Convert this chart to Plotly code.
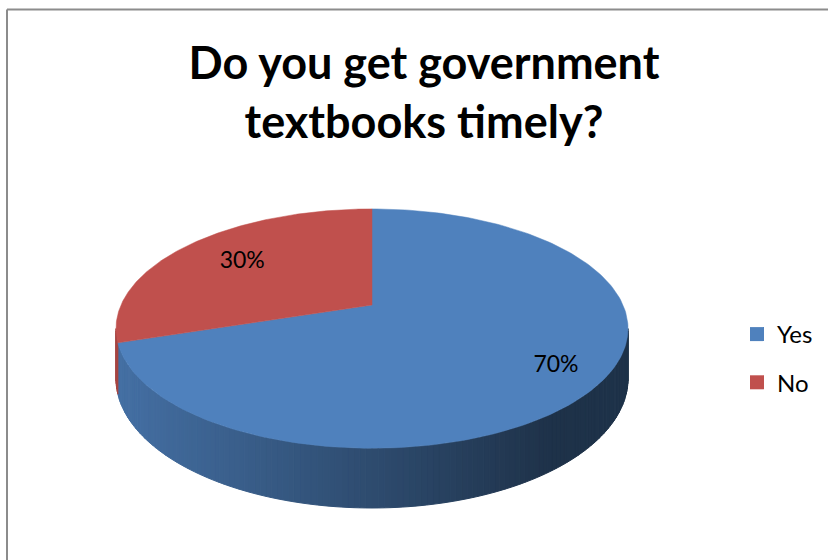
import numpy as np
import plotly.graph_objects as go

# ---- data ----
labels = ["Yes", "No"]
values = [70, 30]
label_text = ["70%", "30%"]
colors = ["#4F81BD", "#C0504D"]
title_text = "Do you get government<br>textbooks timely?"

# ---- projection of a tilted 3D disc (pixel-like axes) ----
W, H = 828, 560
CX, CY = 372.0, 305.0      # projected pie centre
A, B = 251.0, 115.0        # horizontal / vertical radius
K = 0.197                  # perspective strength
D = 48.0                   # thickness
LABEL_R = [0.82, 0.69]


def proj(t_deg, r=1.0, depth=0.0):
    t = np.radians(t_deg)
    u = r * np.sin(t)
    v = -r * np.cos(t)
    w = 1 - K * v
    return CX + A * u / w, CY + (B * v + D * depth) / w


def hex2rgb(h):
    h = h.lstrip("#")
    return tuple(int(h[i:i + 2], 16) for i in (0, 2, 4))


total = float(sum(values))
bounds = []
cum = 0.0
for v in values:
    bounds.append((360 * cum / total, 360 * (cum + v) / total))
    cum += v


def slice_of(t):
    for i, (a0, a1) in enumerate(bounds):
        if a0 <= t % 360 < a1:
            return i
    return len(bounds) - 1


fig = go.Figure()

# side wall (visible front part) with horizontal shading
t_sil = np.degrees(np.arccos(-K))
t_start, t_end = t_sil, 360 - t_sil
N = 140
ts = np.linspace(t_start, t_end, N + 1)
xmin = CX - A / np.sqrt(1 - K * K)
xmax = CX + A / np.sqrt(1 - K * K)
for i in range(N):
    t0, t1 = ts[i], ts[i + 1]
    tm = 0.5 * (t0 + t1)
    si = slice_of(tm)
    xm, _ = proj(tm)
    f = (xm - xmin) / (xmax - xmin)
    fac = 0.87 - 0.48 * min(max(f / 0.85, 0), 1)
    r, g, b = hex2rgb(colors[si])
    col = f"rgb({int(r*fac)},{int(g*fac)},{int(b*fac)})"
    xa0, ya0 = proj(t0)
    xa1, ya1 = proj(t1)
    xb1, yb1 = proj(t1, depth=1)
    xb0, yb0 = proj(t0, depth=1)
    fig.add_trace(go.Scatter(
        x=[xa0, xa1, xb1, xb0, xa0], y=[ya0, ya1, yb1, yb0, ya0],
        mode="lines", fill="toself", fillcolor=col,
        line=dict(color=col, width=1), hoverinfo="skip", showlegend=False))

# top faces
for i, (a0, a1) in enumerate(bounds):
    tt = np.linspace(a0, a1, 200)
    xs, ys = proj(tt)
    xs = np.concatenate([[CX], xs, [CX]])
    ys = np.concatenate([[CY], ys, [CY]])
    fig.add_trace(go.Scatter(
        x=xs, y=ys, mode="lines", fill="toself", fillcolor=colors[i],
        line=dict(color=colors[i], width=0.5), hoverinfo="skip",
        showlegend=False))

# data labels
for i, (a0, a1) in enumerate(bounds):
    lx, ly = proj(0.5 * (a0 + a1), r=LABEL_R[i])
    fig.add_trace(go.Scatter(
        x=[lx], y=[ly], mode="text", text=[label_text[i]],
        textfont=dict(family="Lato", size=23, color="#000000"),
        hoverinfo="skip", showlegend=False))

# legend entries
for i, lab in enumerate(labels):
    fig.add_trace(go.Scatter(
        x=[None], y=[None], mode="markers", name=lab, legendgroup=lab,
        marker=dict(symbol="square", size=14, color=colors[i])))

fig.update_layout(
    width=W, height=H,
    margin=dict(l=0, r=0, t=0, b=0),
    paper_bgcolor="white", plot_bgcolor="white",
    xaxis=dict(range=[0, W], visible=False, fixedrange=True),
    yaxis=dict(range=[H, 0], visible=False, fixedrange=True),
    title=dict(text=title_text, x=424 / W, xanchor="center",
               y=1 - 79 / H, yanchor="top",
               font=dict(family="Lato", size=45, color="#000000", weight="bold")),
    legend=dict(x=737 / W, y=1 - 312 / H, xanchor="left", yanchor="top",
                font=dict(family="Lato", size=24, color="#000000"),
                tracegroupgap=14, bgcolor="rgba(0,0,0,0)"),
    shapes=[
        dict(type="line", xref="paper", yref="paper", x0=7 / W, x1=1.02,
             y0=1 - 9.5 / H, y1=1 - 9.5 / H, line=dict(color="#8C8C8C", width=2)),
        dict(type="line", xref="paper", yref="paper", x0=7 / W, x1=7 / W,
             y0=1 - 9.5 / H, y1=-0.02, line=dict(color="#8C8C8C", width=2)),
    ],
)

fig.write_html("out.html")
